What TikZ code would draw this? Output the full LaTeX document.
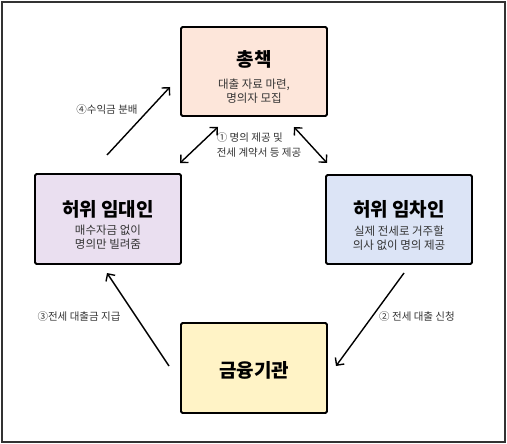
\documentclass[tikz,border=0pt]{standalone}
\usepackage{fontspec}
\setmainfont{Noto Sans CJK KR}
\usepackage{xcolor}
\usepackage{tikz}
\usetikzlibrary{arrows.meta,positioning,calc}
\definecolor{chieffill}{HTML}{FDE6DA}
\definecolor{lessorfill}{HTML}{EADFF0}
\definecolor{lesseefill}{HTML}{DCE4F6}
\definecolor{bankfill}{HTML}{FFF3C6}
\newcommand{\roletitle}[2]{\rule{0pt}{#1}\textcolor{black}{\fontsize{19}{20}\selectfont\bfseries #2}}

\begin{document}
\begin{tikzpicture}[x=1pt,y=-1pt,font=\fontsize{11.5}{14.3}\selectfont,
  role/.style={draw=black,line width=1.8pt,rounded corners=1.5pt,minimum width=146pt,minimum height=89pt,inner sep=0pt,align=center,text=black!80},
  flow/.style={-{Straight Barb[length=5.5pt,width=11pt]},line width=1.4pt},
  both/.style={{Straight Barb[length=5.5pt,width=11pt]}-{Straight Barb[length=5.5pt,width=11pt]},line width=1.4pt},
  note/.style={font=\fontsize{10.5}{15}\selectfont,text=black!80}]
\useasboundingbox (0,0) rectangle (507,444);
\draw[black!80,line width=1.6pt] (2,2) rectangle (505,442);

\node[role,fill=chieffill] (chief) at (254,71.5) {\roletitle{27pt}{총책}\\[8pt]대출 자료 마련,\\명의자 모집};
\node[role,fill=lessorfill,minimum height=90pt] (lessor) at (108,219) {\roletitle{28pt}{허위 임대인}\\[4pt]매수자금 없이\\명의만 빌려줌};
\node[role,fill=lesseefill] (lessee) at (399,219.5) {\roletitle{28pt}{허위 임차인}\\[4pt]실제 전세로 거주할\\의사 없이 명의 제공};
\node[role,fill=bankfill,minimum height=90pt] (bank) at (254,368) {\roletitle{21pt}{금융기관}};

\coordinate (lessorTop) at (107,155);
\coordinate (chiefLeft) at (170,87);
\coordinate (lessorCorner) at (180,163);
\coordinate (chiefLow1) at (218,127);
\coordinate (chiefLow2) at (294,127);
\coordinate (lesseeCorner) at (327,163);
\coordinate (lesseeLow) at (404,273);
\coordinate (bankRight) at (336,366);
\coordinate (bankLeft) at (169,366);
\coordinate (lessorLow) at (107,273);

\draw[flow] (lessorTop) -- (chiefLeft);
\draw[both] (lessorCorner) -- (chiefLow1);
\draw[both] (chiefLow2) -- (lesseeCorner);
\draw[flow] (lesseeLow) -- (bankRight);
\draw[flow] (bankLeft) -- (lessorLow);

\node[note] (step4) at (107,110) {④수익금 분배};
\node[note,align=left] (step1) at (259,145) {① 명의 제공 및\\전세 계약서 등 제공};
\node[note] (step3) at (79,317) {③전세 대출금 지급};
\node[note] (step2) at (417,317) {② 전세 대출 신청};
\end{tikzpicture}
\end{document}
